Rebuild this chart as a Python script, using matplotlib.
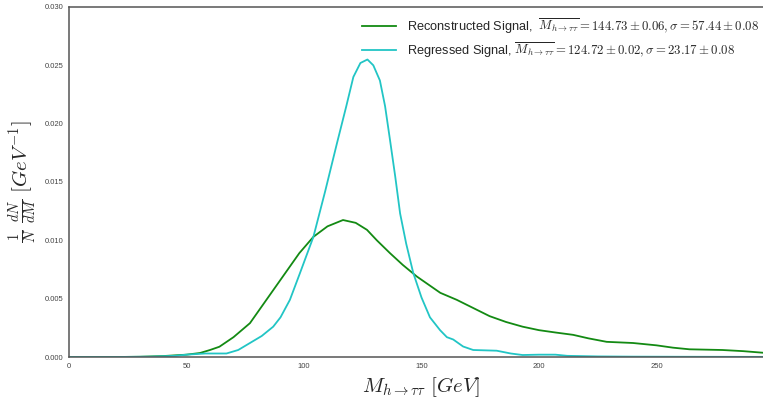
import matplotlib
matplotlib.use('Agg')
import matplotlib.pyplot as plt

# mass values and normalised densities
reco_m = [0, 20, 30, 40, 50, 55.7, 60, 64, 70, 77, 84, 91, 98, 104, 110, 116.6,
          122, 126.8, 131, 136.6, 142, 148, 153, 158, 165, 172, 179, 186, 193,
          200, 207, 214.5, 221, 228.8, 240, 250, 257, 264, 278, 287, 295, 300]
reco_d = [0, 0, 0.00002, 0.00008, 0.0002, 0.00034, 0.0006, 0.00088, 0.0017,
          0.0029, 0.0049, 0.0069, 0.0089, 0.0103, 0.0112, 0.01174, 0.0115,
          0.0109, 0.0100, 0.0089, 0.0079, 0.0069, 0.0062, 0.0055, 0.0049,
          0.0042, 0.0035, 0.0030, 0.0026, 0.0023, 0.0021, 0.0019, 0.0016,
          0.0013, 0.0012, 0.0010, 0.0008, 0.00066, 0.0006, 0.0005, 0.00037, 0.0003]

regr_m = [0, 20, 35, 45, 50, 58, 67, 72, 77, 82, 86.9, 90, 94, 98.3, 104, 109,
          114, 118, 121, 124, 127, 129.5, 132.3, 134.5, 136.6, 138.8, 140.9,
          143.5, 146.5, 150, 153.6, 157.9, 160.8, 163.5, 167.7, 172, 182, 188,
          193, 200, 207, 212, 225, 240, 260, 300]
regr_d = [0, 0, 0.00003, 0.0001, 0.0002, 0.0003, 0.0003, 0.0006, 0.0012,
          0.0018, 0.0026, 0.0034, 0.0049, 0.0072, 0.0103, 0.0142, 0.0183,
          0.0215, 0.0240, 0.0252, 0.0255, 0.0250, 0.0237, 0.0215, 0.0186,
          0.0155, 0.0123, 0.0097, 0.0072, 0.0051, 0.0034, 0.0023, 0.0017,
          0.0015, 0.0009, 0.0006, 0.00054, 0.0003, 0.00017, 0.0002, 0.0002,
          0.0001, 0.00005, 0.00003, 0.00002, 0.00001]

reco_label = (r'Reconstructed Signal,  $\overline{M_{h\rightarrow\tau\tau}} = 144.73 \pm 0.06, '
              r'\sigma = 57.44 \pm 0.08$')
regr_label = (r'Regressed Signal, $\overline{M_{h\rightarrow\tau\tau}} = 124.72 \pm 0.02, '
              r'\sigma = 23.17 \pm 0.08$')

plt.rcParams['font.family'] = ['Liberation Sans', 'DejaVu Sans']
plt.rcParams['mathtext.fontset'] = 'cm'

fig = plt.figure(figsize=(7.63, 4.01), dpi=100)
ax = fig.add_axes([69 / 763, 1 - 357 / 401, 705 / 763, 350 / 401])

ax.plot(reco_m, reco_d, color='#138a13', linewidth=1.3, label=reco_label)
ax.plot(regr_m, regr_d, color='#22c5c5', linewidth=1.3, label=regr_label)

ax.set_xlim(0, 300)
ax.set_ylim(0, 0.030)
ax.set_xticks([0, 50, 100, 150, 200, 250])
ax.set_yticks([0, 0.005, 0.010, 0.015, 0.020, 0.025, 0.030])
ax.yaxis.set_major_formatter(matplotlib.ticker.FormatStrFormatter('%.3f'))
ax.tick_params(length=0, labelsize=5.5, colors='#444444', pad=4)
for s in ax.spines.values():
    s.set_color('#555555')
    s.set_linewidth(1.1)

ax.set_xlabel(r'$M_{h\rightarrow\tau\tau}\ [GeV]$', fontsize=15, color='#262626')
ax.set_ylabel(r'$\frac{1}{N}\ \frac{dN}{dM}\ [GeV^{-1}]$', fontsize=15, color='#262626')

ax.legend(loc='upper right', bbox_to_anchor=(770 / 763, 1 - 5 / 401),
          bbox_transform=fig.transFigure, frameon=False, fontsize=9.2,
          handlelength=2.7, labelspacing=0.4, labelcolor='#262626')

fig.savefig('out.png', dpi=100)
